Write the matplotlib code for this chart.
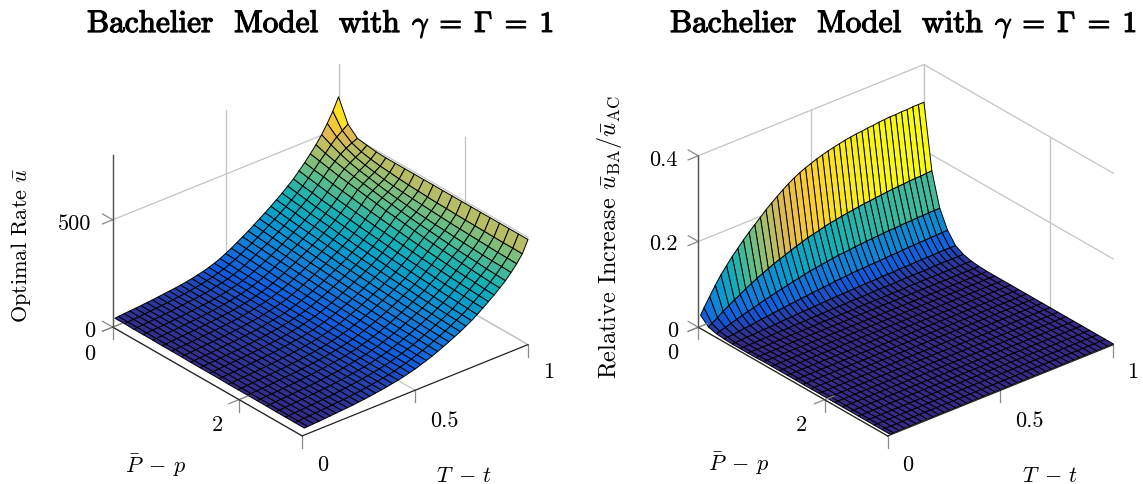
import numpy as np
import matplotlib
matplotlib.use("Agg")
import matplotlib.pyplot as plt
import matplotlib.patheffects as pe
from matplotlib.colors import LinearSegmentedColormap, Normalize
from mpl_toolkits.mplot3d import proj3d

plt.rcParams["font.family"] = ["cmr10", "DejaVu Sans"]
plt.rcParams["mathtext.fontset"] = "cm"
plt.rcParams["axes.unicode_minus"] = False

W, H = 1143, 485

# sample positions
GAP_LEFT = [0, 0.15, 0.3, 0.45, 0.6, 0.75, 0.9, 1.05, 1.2, 1.35, 1.5, 1.65, 1.8, 1.95,
            2.1, 2.25, 2.4, 2.55, 2.7, 2.85, 3]
GAP_RIGHT = [0, 0.125, 0.25, 0.375, 0.5, 0.625, 0.75, 0.875, 1, 1.125, 1.25, 1.375, 1.5,
             1.625, 1.75, 1.875, 2, 2.125, 2.25, 2.375, 2.5, 2.625, 2.75, 2.875, 3]
TAU = [0.01, 0.025, 0.05, 0.075, 0.1, 0.125, 0.15, 0.175, 0.2, 0.225, 0.25, 0.275, 0.3, 0.325,
       0.35, 0.375, 0.4, 0.425, 0.45, 0.475, 0.5, 0.525, 0.55, 0.575, 0.6, 0.625, 0.65, 0.675,
       0.7, 0.725, 0.75, 0.775, 0.8, 0.825, 0.85, 0.875, 0.9, 0.925, 0.95, 0.975, 1.0]

# one row per GAP value, one column per TAU value
RATE = [
    [37, 39, 41, 43, 45, 47, 50, 52, 55, 58, 61, 64, 68, 72, 77, 83, 89, 97, 106, 117, 130, 144, 160, 176, 192, 210, 228, 246, 265, 285, 305, 327, 350, 377, 405, 435, 467, 503, 545, 592, 648],
    [37, 38, 40, 42, 44, 46, 49, 51, 54, 57, 60, 63, 67, 71, 76, 82, 88, 96, 104, 115, 128, 141, 157, 172, 188, 205, 223, 240, 259, 278, 298, 320, 342, 369, 396, 426, 452, 481, 507, 526, 546],
    [36, 38, 40, 42, 44, 46, 49, 51, 54, 57, 60, 63, 66, 70, 75, 81, 87, 94, 103, 113, 125, 139, 154, 169, 184, 201, 218, 235, 253, 273, 292, 313, 336, 362, 389, 417, 440, 463, 480, 494, 505],
    [36, 38, 40, 41, 43, 45, 48, 50, 53, 56, 59, 62, 65, 69, 74, 80, 86, 93, 101, 111, 123, 136, 150, 165, 180, 196, 213, 230, 247, 266, 285, 306, 328, 354, 380, 408, 430, 448, 463, 478, 498],
    [36, 37, 39, 41, 43, 45, 48, 50, 52, 55, 58, 61, 65, 69, 74, 79, 85, 92, 100, 110, 121, 134, 148, 162, 176, 193, 209, 225, 243, 261, 280, 301, 322, 347, 373, 401, 420, 437, 452, 469, 492],
    [35, 37, 39, 41, 43, 45, 47, 49, 52, 55, 58, 61, 64, 68, 73, 78, 84, 91, 99, 108, 119, 131, 145, 159, 173, 189, 205, 221, 238, 256, 275, 295, 317, 341, 367, 394, 412, 429, 444, 462, 490],
    [35, 37, 39, 40, 42, 44, 47, 49, 51, 54, 57, 60, 63, 67, 72, 77, 83, 90, 97, 107, 117, 129, 142, 156, 170, 185, 201, 217, 233, 251, 269, 290, 311, 335, 360, 387, 405, 421, 436, 458, 490],
    [35, 36, 38, 40, 42, 44, 46, 48, 51, 53, 56, 59, 63, 67, 71, 76, 82, 89, 96, 105, 115, 127, 140, 153, 167, 182, 197, 213, 229, 246, 264, 284, 305, 329, 353, 380, 397, 413, 430, 453, 490],
    [34, 36, 38, 39, 41, 43, 46, 48, 50, 53, 56, 59, 62, 66, 71, 76, 81, 87, 95, 104, 114, 125, 137, 150, 163, 178, 193, 208, 224, 242, 259, 279, 300, 323, 347, 372, 391, 407, 426, 450, 490],
    [34, 36, 38, 39, 41, 43, 45, 47, 50, 52, 55, 58, 62, 66, 70, 75, 80, 87, 94, 102, 112, 123, 135, 148, 161, 175, 190, 205, 220, 237, 255, 274, 295, 318, 341, 367, 384, 402, 422, 447, 490],
    [34, 35, 37, 39, 41, 43, 45, 47, 49, 52, 55, 58, 61, 65, 69, 74, 80, 86, 93, 101, 110, 121, 133, 145, 158, 172, 186, 201, 216, 233, 250, 270, 290, 313, 336, 361, 378, 396, 419, 445, 490],
    [34, 35, 37, 38, 40, 42, 45, 47, 49, 51, 54, 57, 61, 65, 69, 73, 79, 85, 92, 100, 109, 120, 131, 143, 155, 169, 183, 198, 213, 229, 246, 265, 285, 308, 330, 355, 373, 392, 416, 443, 490],
    [33, 35, 37, 38, 40, 42, 44, 46, 48, 51, 54, 57, 60, 64, 68, 73, 78, 84, 91, 99, 107, 118, 129, 140, 153, 166, 180, 194, 209, 225, 241, 261, 281, 303, 325, 349, 369, 388, 413, 442, 490],
    [33, 34, 36, 38, 40, 42, 44, 46, 48, 50, 53, 56, 60, 64, 68, 72, 77, 83, 90, 98, 106, 116, 127, 138, 150, 164, 177, 191, 206, 222, 238, 257, 277, 298, 320, 344, 364, 386, 410, 440, 490],
    [33, 34, 36, 37, 39, 41, 44, 46, 48, 50, 53, 56, 59, 63, 67, 72, 77, 82, 89, 97, 105, 115, 125, 136, 148, 161, 175, 188, 203, 219, 235, 253, 273, 294, 316, 339, 360, 382, 408, 439, 490],
    [33, 34, 36, 37, 39, 41, 43, 45, 47, 50, 53, 56, 59, 63, 67, 71, 76, 82, 88, 96, 104, 113, 123, 134, 146, 159, 172, 186, 200, 215, 231, 250, 269, 290, 312, 335, 355, 379, 406, 438, 490],
    [33, 34, 36, 37, 39, 41, 43, 45, 47, 49, 52, 55, 58, 62, 66, 71, 76, 81, 87, 95, 102, 112, 122, 132, 144, 157, 169, 183, 196, 212, 228, 246, 265, 286, 307, 330, 352, 376, 404, 437, 490],
    [32, 33, 35, 37, 39, 41, 43, 45, 47, 49, 52, 55, 58, 62, 66, 70, 75, 80, 87, 94, 101, 111, 120, 131, 142, 155, 167, 181, 194, 210, 225, 243, 263, 283, 304, 326, 349, 373, 402, 436, 490],
    [32, 33, 35, 36, 38, 40, 42, 44, 46, 48, 52, 55, 58, 62, 66, 70, 75, 80, 86, 93, 101, 110, 119, 129, 141, 153, 165, 179, 192, 207, 222, 241, 260, 280, 301, 323, 345, 371, 400, 435, 490],
    [32, 33, 35, 36, 38, 40, 42, 44, 46, 48, 51, 54, 57, 61, 65, 69, 74, 79, 85, 93, 100, 109, 118, 128, 139, 151, 163, 176, 190, 205, 220, 238, 257, 277, 297, 319, 343, 370, 399, 435, 490],
    [32, 33, 35, 36, 38, 40, 42, 44, 46, 48, 51, 54, 57, 61, 65, 69, 74, 79, 85, 92, 99, 108, 117, 127, 138, 150, 162, 175, 188, 203, 218, 236, 255, 275, 295, 317, 340, 368, 398, 434, 490],
]

INCREASE = [
    [0.026, 0.04, 0.061, 0.082, 0.101, 0.117, 0.133, 0.147, 0.161, 0.174, 0.186, 0.198, 0.21, 0.221, 0.231, 0.241, 0.25, 0.258, 0.265, 0.271, 0.276, 0.281, 0.285, 0.289, 0.292, 0.295, 0.298, 0.3, 0.302, 0.303, 0.305, 0.306, 0.308, 0.309, 0.31, 0.31, 0.311, 0.311, 0.312, 0.312, 0.312],
    [0.009, 0.014, 0.022, 0.032, 0.04, 0.048, 0.055, 0.063, 0.07, 0.077, 0.083, 0.089, 0.095, 0.1, 0.105, 0.11, 0.115, 0.119, 0.124, 0.127, 0.13, 0.134, 0.137, 0.139, 0.142, 0.144, 0.146, 0.148, 0.15, 0.151, 0.153, 0.154, 0.156, 0.157, 0.158, 0.159, 0.16, 0.161, 0.161, 0.162, 0.163],
    [0.004, 0.006, 0.01, 0.014, 0.018, 0.022, 0.026, 0.029, 0.033, 0.037, 0.04, 0.044, 0.047, 0.05, 0.053, 0.056, 0.059, 0.062, 0.064, 0.066, 0.068, 0.07, 0.072, 0.073, 0.074, 0.076, 0.077, 0.078, 0.079, 0.08, 0.081, 0.082, 0.082, 0.083, 0.084, 0.084, 0.085, 0.085, 0.086, 0.086, 0.086],
    [0.002, 0.003, 0.004, 0.006, 0.008, 0.009, 0.011, 0.013, 0.014, 0.016, 0.018, 0.019, 0.021, 0.022, 0.024, 0.025, 0.027, 0.028, 0.029, 0.03, 0.032, 0.033, 0.034, 0.035, 0.036, 0.036, 0.037, 0.038, 0.038, 0.039, 0.04, 0.04, 0.041, 0.042, 0.042, 0.043, 0.043, 0.044, 0.044, 0.045, 0.045],
    [0.001, 0.001, 0.002, 0.003, 0.003, 0.004, 0.005, 0.005, 0.006, 0.007, 0.008, 0.008, 0.009, 0.01, 0.01, 0.011, 0.012, 0.012, 0.013, 0.013, 0.014, 0.014, 0.015, 0.015, 0.016, 0.016, 0.016, 0.017, 0.017, 0.017, 0.018, 0.018, 0.018, 0.019, 0.019, 0.019, 0.019, 0.02, 0.02, 0.02, 0.02],
    [0.001, 0.001, 0.001, 0.001, 0.002, 0.002, 0.002, 0.003, 0.003, 0.003, 0.004, 0.004, 0.004, 0.005, 0.005, 0.005, 0.006, 0.006, 0.006, 0.006, 0.007, 0.007, 0.007, 0.007, 0.008, 0.008, 0.008, 0.008, 0.008, 0.009, 0.009, 0.009, 0.009, 0.009, 0.009, 0.01, 0.01, 0.01, 0.01, 0.01, 0.01],
    [0.001, 0.001, 0.001, 0.001, 0.001, 0.001, 0.002, 0.002, 0.002, 0.002, 0.002, 0.002, 0.002, 0.003, 0.003, 0.003, 0.003, 0.003, 0.003, 0.003, 0.004, 0.004, 0.004, 0.004, 0.004, 0.004, 0.004, 0.004, 0.004, 0.005, 0.005, 0.005, 0.005, 0.005, 0.005, 0.005, 0.005, 0.005, 0.005, 0.005, 0.005],
    [0.001] * 6 + [0.002] * 12 + [0.003] * 23,
] + [[0.002] * 41] * 17

PARULA = ["#352a87", "#0f5cdd", "#127dd8", "#079ccf", "#15b1b4",
          "#59bd8c", "#a5be6b", "#e1b952", "#fcce2e", "#f9fb0e"]
cmap = LinearSegmentedColormap.from_list("parula", PARULA)

GAP_TICKS = [0, 2]
TAU_TICKS = [0, 0.5, 1]


def px(x, y):
    return x / W, 1 - y / H


def fit_axes(ax, left_px, right_px):
    # move the square 3d axes so that the floor corners land on the wanted pixels
    ax.apply_aspect()
    pos = ax.get_position()
    s0 = pos.width * W
    x0, y0 = pos.x0 * W, pos.y0 * H
    M = ax.get_proj()
    xlim, ylim = ax.get_xlim(), ax.get_ylim()
    a = proj3d.proj_transform(xlim[0], ylim[0], 0, M)[:2]
    b = proj3d.proj_transform(xlim[1], ylim[1], 0, M)[:2]
    pa, pb = ax.transData.transform([a, b])
    k = (right_px[0] - left_px[0]) / (pb[0] - pa[0])
    s1 = s0 * k
    nx = left_px[0] - (pa[0] - x0) * k
    ny = (H - 0.5 * (left_px[1] + right_px[1])) - (0.5 * (pa[1] + pb[1]) - y0) * k
    ax.set_position([nx / W, ny / H, s1 / W, s1 / H])


def draw_panel(rect, gaps, z_rows, zmax, z_ticks, vmax, left_px, right_px):
    ax = fig.add_axes(rect, projection="3d", computed_zorder=False)
    ax.set_proj_type("ortho")
    ax.view_init(elev=28.8, azim=-40.0)
    ax.set_box_aspect((295, 295, 196))
    ax.set_xlim(0, 3)
    ax.set_ylim(0, 1)
    ax.set_zlim(0, zmax)
    ax.set_axis_off()
    fit_axes(ax, left_px, right_px)

    line = dict(clip_on=False)
    grid = dict(color="#c4c4c4", lw=0.9, zorder=1, **line)
    tick = dict(color="#8a8a8a", lw=0.9, zorder=4, **line)
    axis = dict(color="#222222", lw=0.9, zorder=5, **line)

    # grid on walls and floor
    for z in z_ticks:
        ax.plot([0, 0], [0, 1], [z, z], **grid)
        ax.plot([0, 3], [1, 1], [z, z], **grid)
    for t in TAU_TICKS:
        ax.plot([0, 0], [t, t], [0, zmax], **grid)
        ax.plot([0, 3], [t, t], [0, 0], **grid)
    for g in GAP_TICKS:
        ax.plot([g, g], [1, 1], [0, zmax], **grid)
        ax.plot([g, g], [0, 1], [0, 0], **grid)

    # surface, each cell coloured by its corner at the larger T-t
    X, Y = np.meshgrid(gaps, TAU[::-1], indexing="ij")
    Z = np.array(z_rows, dtype=float)[:, ::-1]
    colors = cmap(Normalize(Z.min(), vmax)(Z))
    surf = ax.plot_surface(X, Y, Z, facecolors=colors, rstride=1, cstride=1,
                           shade=False, zorder=2)
    surf.set_edgecolor("black")
    surf.set_linewidth(0.7)

    # front floor edges and z axis
    ax.plot([0, 3], [0, 0], [0, 0], **axis)
    ax.plot([3, 3], [0, 1], [0, 0], **axis)
    ax.plot([0, 0], [0, 0], [0, zmax], color="#555555", lw=1.0, zorder=5, clip_on=False)

    # tick marks
    down = -12 * zmax / 173
    for g in GAP_TICKS:
        ax.plot([g, g], [0, 0], [0, down], **tick)
        ax.plot([g, g], [-0.045, 0.04], [0, 0], **tick)
    for t in TAU_TICKS:
        ax.plot([3, 3], [t, t], [0, down], **tick)
    for z in z_ticks:
        ax.plot([0, -0.16], [0, 0], [z, z], **tick)
        ax.plot([0, 0], [0, -0.045], [z, z], **tick)
    return ax


def label(x, y, s, **kw):
    kw.setdefault("fontsize", 16)
    fig.text(*px(x, y), s, ha="center", va="center", **kw)


def title(x, y):
    stroke = [pe.withStroke(linewidth=0.9, foreground="black")]
    fig.text(*px(x, y), "Bachelier  Model  with", fontsize=22.5, ha="left", va="baseline",
             path_effects=stroke)
    fig.text(*px(x + 325, y), r"$\gamma\;=\;\Gamma\;=\;1$", fontsize=21, ha="left", va="baseline",
             path_effects=stroke)


fig = plt.figure(figsize=(W / 100, H / 100), dpi=100)

draw_panel([0.0, 0.0, 0.42, 0.42 * W / H], GAP_LEFT, RATE, 800, [0, 500], 690,
           (112.7, 328), (528, 345.7))
draw_panel([0.5, 0.0, 0.42, 0.42 * W / H], GAP_RIGHT, INCREASE, 0.4, [0, 0.2, 0.4], 0.312,
           (698.3, 329), (1113.3, 345))

title(87, 33)
title(670, 33)

# left panel texts
label(75, 224, "500")
label(90, 331, "0")
label(90, 354, "0")
label(217, 425, "2")
label(323, 465, "0")
label(444, 421, "0.5")
label(549, 372, "1")
label(155, 466, r"$\bar{P}\;-\,p$")
label(464, 476, r"$T\;-\,t$")
label(21, 245, r"Optimal Rate $\bar{u}$", rotation=90)

# right panel texts
label(663, 160, "0.4")
label(663, 244, "0.2")
label(673, 331, "0")
label(673, 353, "0")
label(801, 425, "2")
label(908, 465, "0")
label(1029, 421, "0.5")
label(1133, 372, "1")
label(738, 464, r"$\bar{P}\;-\,p$")
label(1050, 476, r"$T\;-\,t$")
label(610, 237, r"Relative Increase $\bar{u}_{\mathrm{BA}}/\bar{u}_{\mathrm{AC}}$", rotation=90, fontsize=17.5)

fig.savefig("out.png", dpi=100)
